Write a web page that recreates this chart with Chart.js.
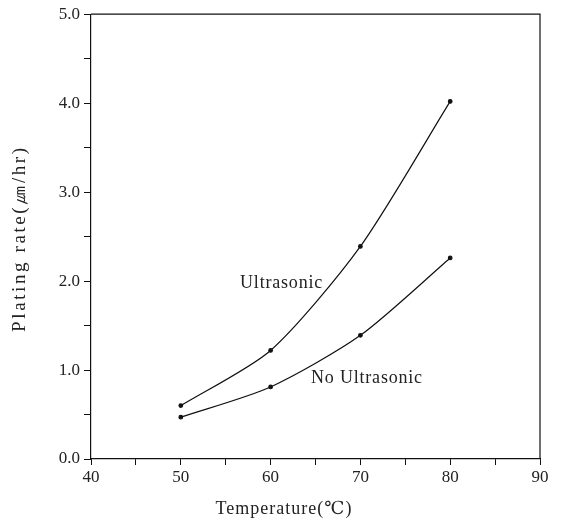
<!DOCTYPE html>
<html>
<head>
<meta charset="utf-8">
<script src="https://cdn.jsdelivr.net/npm/chart.js@4"></script>
<style>
  html, body { margin: 0; padding: 0; background: #fff; }
  #wrap { width: 563px; height: 522px; }
</style>
</head>
<body>
<div id="wrap"><canvas id="myChart" width="563" height="522"></canvas></div>
<script>
// temperatures (C) and plating rates (um/hr)
const temps = [50, 60, 70, 80];
const ultrasonic = [0.60, 1.22, 2.39, 4.02];
const noUltrasonic = [0.47, 0.81, 1.39, 2.26];
const xTicks = [40, 50, 60, 70, 80, 90];
const yTicks = [0.0, 1.0, 2.0, 3.0, 4.0, 5.0];
const xTitle = 'Temperature(\u2103)';
const yTitle = 'Plating rate(\u339B/hr)';

const serif = "'Liberation Serif', 'DejaVu Serif', serif";

// box around the plot area, axis titles (spaced out like the print) and curve labels
const extras = {
  id: 'extras',
  afterDraw(chart) {
    const ctx = chart.ctx, a = chart.chartArea;
    const xs = chart.scales.x, ys = chart.scales.y;
    ctx.save();
    ctx.strokeStyle = '#111';
    ctx.lineWidth = 1.2;
    ctx.beginPath();
    ctx.moveTo(a.left, a.top);
    ctx.lineTo(a.right, a.top);
    ctx.lineTo(a.right, a.bottom);
    ctx.stroke();

    ctx.fillStyle = '#222';
    ctx.textBaseline = 'middle';
    ctx.font = '18px ' + serif;
    ctx.letterSpacing = '0.8px';
    ctx.fillText('Ultrasonic', xs.getPixelForValue(56.6), ys.getPixelForValue(1.97));
    ctx.fillText('No Ultrasonic', xs.getPixelForValue(64.5), ys.getPixelForValue(0.91));

    ctx.font = '18px ' + serif;
    ctx.letterSpacing = '1px';
    ctx.textAlign = 'center';
    ctx.fillText(xTitle, a.left + 193, a.bottom + 50);

    ctx.font = '19px ' + serif;
    ctx.letterSpacing = '2.6px';
    ctx.translate(20, (a.top + a.bottom) / 2 + 2);
    ctx.rotate(-Math.PI / 2);
    ctx.fillText(yTitle, 0, 0);
    ctx.restore();
  }
};

const ctx = document.getElementById('myChart').getContext('2d');
const chart = new Chart(ctx, {
  type: 'line',
  data: {
    datasets: [{
      label: 'Ultrasonic',
      data: temps.map((t, i) => ({ x: t, y: ultrasonic[i] })),
      borderColor: '#111',
      backgroundColor: '#111',
      borderWidth: 1.2,
      pointRadius: 1.8,
      tension: 0.25
    }, {
      label: 'No Ultrasonic',
      data: temps.map((t, i) => ({ x: t, y: noUltrasonic[i] })),
      borderColor: '#111',
      backgroundColor: '#111',
      borderWidth: 1.2,
      pointRadius: 1.8,
      tension: 0.25
    }]
  },
  options: {
    responsive: false,
    animation: false,
    layout: { padding: { top: 14, right: 23, left: 0, bottom: 0 } },
    plugins: { legend: { display: false }, tooltip: { enabled: false } },
    scales: {
      x: {
        type: 'linear',
        min: 40, max: 90,
        afterBuildTicks: s => { s.ticks = [40, 45, 50, 55, 60, 65, 70, 75, 80, 85, 90].map(v => ({ value: v })); },
        afterFit: s => { s.height = 63; },
        border: { color: '#111', width: 1.2 },
        grid: { drawOnChartArea: false, tickLength: 6, tickColor: '#111' },
        ticks: {
          color: '#222',
          font: { family: serif, size: 17 },
          padding: 2,
          maxRotation: 0,
          autoSkip: false,
          callback: v => xTicks.includes(v) ? String(v) : ''
        }
      },
      y: {
        min: 0, max: 5,
        afterBuildTicks: s => { s.ticks = [0, 0.5, 1, 1.5, 2, 2.5, 3, 3.5, 4, 4.5, 5].map(v => ({ value: v })); },
        afterFit: s => { s.width = 91; },
        border: { color: '#111', width: 1.2 },
        grid: { drawOnChartArea: false, tickLength: 7, tickColor: '#111' },
        ticks: {
          color: '#222',
          font: { family: serif, size: 17 },
          padding: 4,
          autoSkip: false,
          callback: v => yTicks.includes(v) ? v.toFixed(1) : ''
        }
      }
    }
  },
  plugins: [extras]
});
</script>
</body>
</html>
